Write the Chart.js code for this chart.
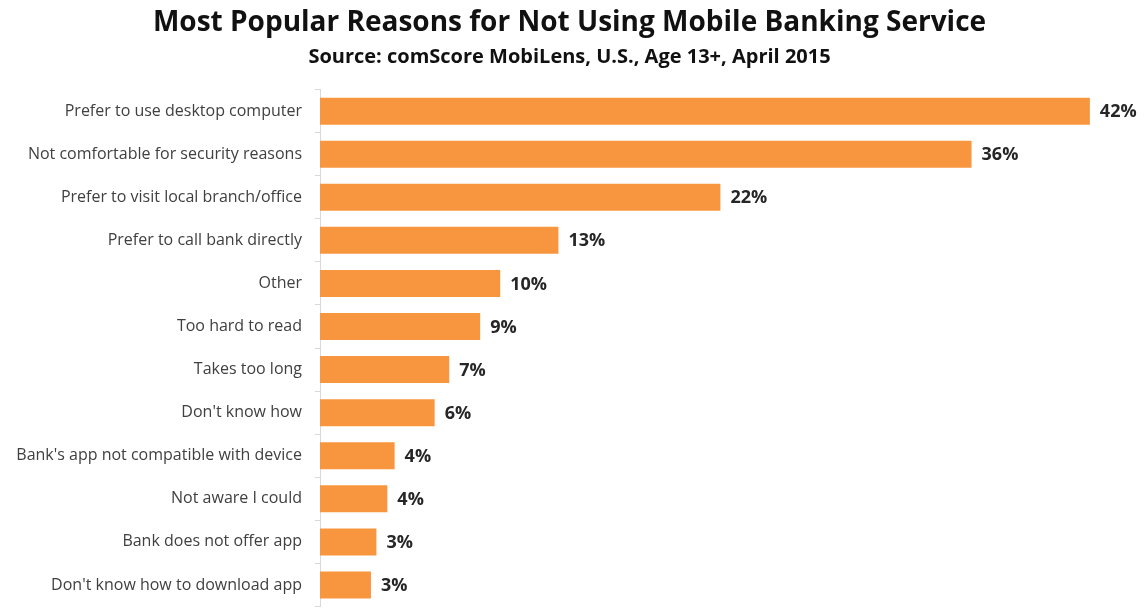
<!DOCTYPE html>
<html>
<head>
<meta charset="utf-8">
<script src="https://cdn.jsdelivr.net/npm/chart.js@4/dist/chart.umd.min.js"></script>
<style>
  html, body { margin: 0; padding: 0; background: #ffffff; overflow: hidden; }
  #wrap { width: 1145px; height: 608px; position: relative; }
</style>
</head>
<body>
<div id="wrap"><canvas id="c"></canvas></div>
<script>
const categories = [
  "Prefer to use desktop computer",
  "Not comfortable for security reasons",
  "Prefer to visit local branch/office",
  "Prefer to call bank directly",
  "Other",
  "Too hard to read",
  "Takes too long",
  "Don't know how",
  "Bank's app not compatible with device",
  "Not aware I could",
  "Bank does not offer app",
  "Don't know how to download app"
];
const values = [42.3, 35.8, 22.0, 13.1, 9.9, 8.8, 7.1, 6.3, 4.1, 3.7, 3.1, 2.8];
const valueLabels = ["42%", "36%", "22%", "13%", "10%", "9%", "7%", "6%", "4%", "4%", "3%", "3%"];
const titleText = "Most Popular Reasons for Not Using Mobile Banking Service";
const subtitleText = "Source: comScore MobiLens, U.S., Age 13+, April 2015";

const FONT = '"Open Sans", Lato, sans-serif';

const valueLabelPlugin = {
  id: 'valueLabels',
  afterDatasetsDraw(chart) {
    const ctx = chart.ctx;
    const meta = chart.getDatasetMeta(0);
    ctx.save();
    ctx.font = 'bold 18px ' + FONT;
    ctx.fillStyle = '#262626';
    ctx.textAlign = 'left';
    ctx.textBaseline = 'middle';
    meta.data.forEach((bar, i) => {
      ctx.fillText(valueLabels[i], bar.x + 10, bar.y + 1);
    });
    ctx.restore();
  }
};

new Chart(document.getElementById('c'), {
  type: 'bar',
  data: {
    labels: categories,
    datasets: [{
      data: values,
      backgroundColor: '#F8963F',
      borderWidth: 0,
      barPercentage: 0.7,
      categoryPercentage: 0.895
    }]
  },
  options: {
    indexAxis: 'y',
    responsive: true,
    maintainAspectRatio: false,
    animation: false,
    layout: { padding: { left: 0, right: 6, top: 0, bottom: 1.5 } },
    plugins: {
      legend: { display: false },
      tooltip: { enabled: false },
      title: {
        display: true,
        text: titleText,
        color: '#111111',
        font: { family: FONT, size: 28, weight: 'bold', lineHeight: 1.2 },
        padding: { top: 6, bottom: 4 }
      },
      subtitle: {
        display: true,
        text: subtitleText,
        color: '#111111',
        font: { family: FONT, size: 20, weight: 'bold', lineHeight: 1.15 },
        padding: { top: 2, bottom: 21 }
      }
    },
    scales: {
      x: {
        display: false,
        min: 0,
        max: 45
      },
      y: {
        afterFit(scale) {
          scale.width = 320;
          scale.paddingTop = 0;
          scale.paddingBottom = 0;
        },
        border: { display: true, color: '#D9D9D9', width: 1 },
        grid: { display: true, drawOnChartArea: false, tickLength: 5, color: '#D9D9D9' },
        ticks: {
          color: '#404040',
          padding: 13,
          font: { family: FONT, size: 16 }
        }
      }
    }
  },
  plugins: [valueLabelPlugin]
});
</script>
</body>
</html>
